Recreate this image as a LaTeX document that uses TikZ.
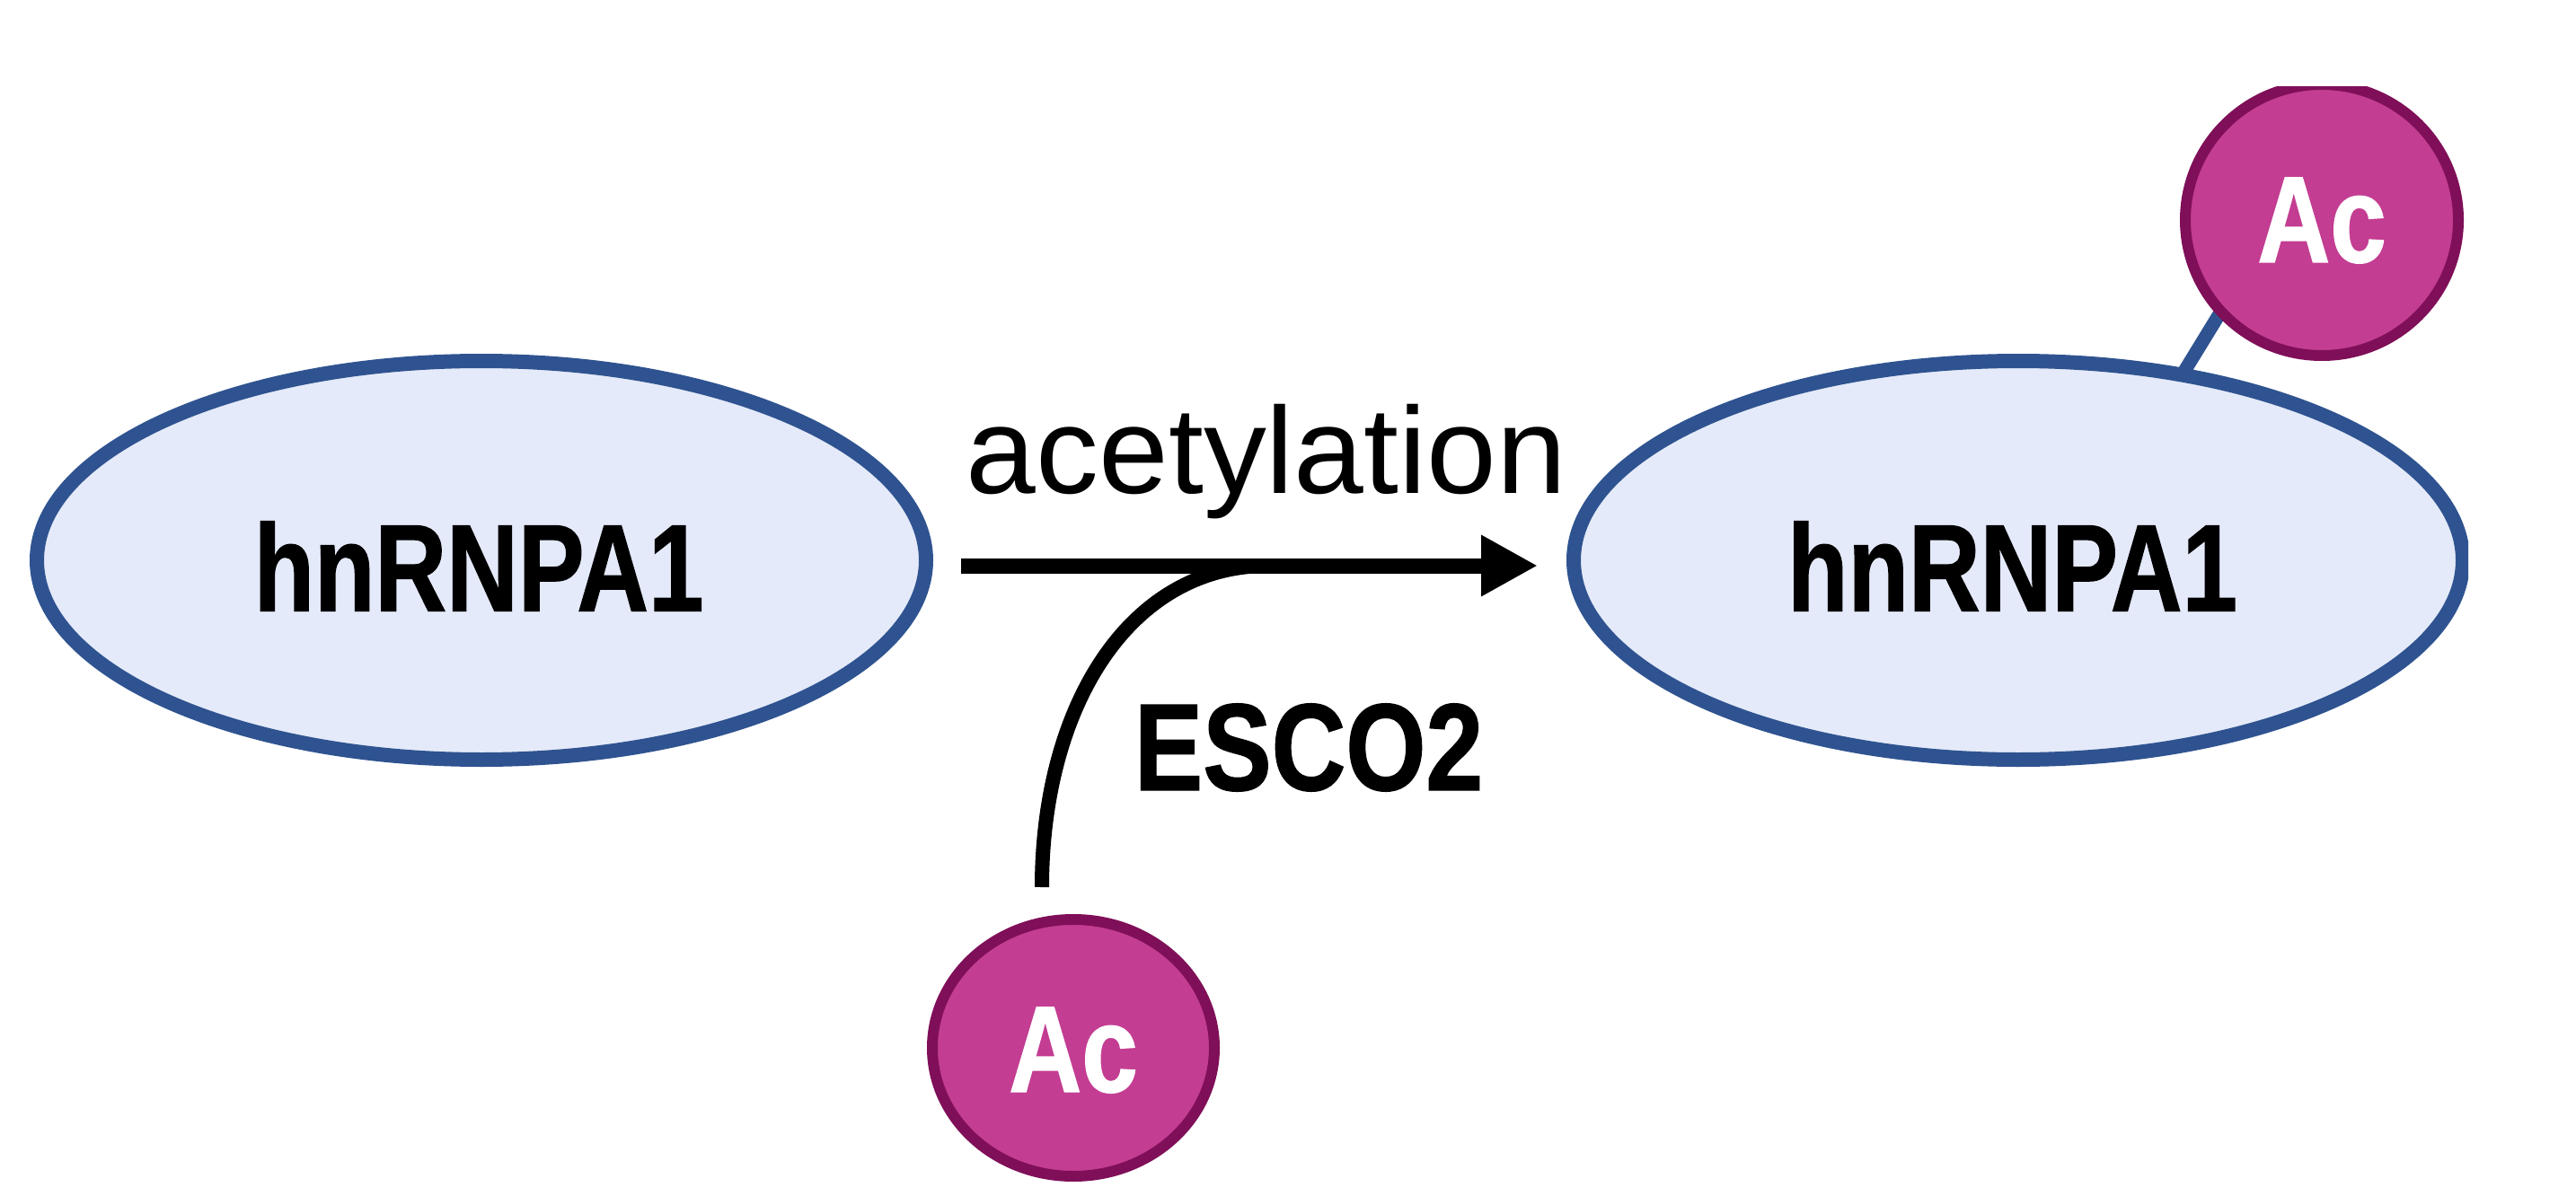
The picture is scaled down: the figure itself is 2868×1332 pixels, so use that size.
\documentclass[tikz,border=0pt]{standalone}
\usepackage{fontspec}
\setmainfont{Liberation Sans}
\newfontfamily\protbold[FakeStretch=0.80,FakeBold=1]{Liberation Sans Bold}
\newfontfamily\escobold[FakeStretch=0.83,FakeBold=1]{Liberation Sans Bold}
\newfontfamily\acbold[FakeStretch=0.82,FakeBold=1]{Liberation Sans Bold}
\newfontfamily\acetfont[FakeStretch=1.02]{Liberation Sans}
\usetikzlibrary{shapes.geometric,arrows.meta,backgrounds}
\definecolor{protfill}{HTML}{E4EAF9}
\definecolor{protline}{HTML}{2F5390}
\definecolor{acfill}{HTML}{C33D92}
\definecolor{acline}{HTML}{7F0F58}
\tikzset{
  protein/.style={ellipse,draw=protline,fill=protfill,line width=16pt,inner sep=0pt,outer sep=0pt,
    minimum width=990pt,minimum height=444pt,text height=113pt,text depth=0pt,
    font=\protbold\fontsize{138}{138}\selectfont},
  acetyl/.style={ellipse,draw=acline,fill=acfill,line width=12pt,inner sep=0pt,outer sep=0pt,
    text=white,text depth=0pt,font=\acbold\fontsize{137}{137}\selectfont},
  flow/.style={black,line width=17pt,line cap=butt},
  stem/.style={protline,line width=15pt},
}
\begin{document}
\begin{tikzpicture}[x=1pt,y=-1pt]
\useasboundingbox (0,0) rectangle (2868,1332);
\clip (0,97) rectangle (2748,1332);
\node[protein] (left) at (536,624) {hnRNPA1\rule{6pt}{0pt}};
\node[protein] (right) at (2247,624) {hnRNPA1\rule{13pt}{0pt}};
\node[acetyl,minimum width=304pt,minimum height=302pt,text height=94pt] (topac) at (2585,245) {Ac};
\node[acetyl,minimum width=314pt,minimum height=286pt,text height=98pt] (botac) at (1195,1167) {Ac};
\node[anchor=base,inner sep=0pt,font=\acetfont\fontsize{137}{137}\selectfont] (acet) at (1410,549) {acetylation};
\node[anchor=base,inner sep=0pt,font=\escobold\fontsize{138}{138}\selectfont] (esco) at (1457,880) {ESCO2};
\coordinate (stemfoot) at (2431,415);
\coordinate (stemtop) at (2480,335);
\coordinate (curvefoot) at (1160,988);
\coordinate (curvejoin) at (1412,630);
\begin{pgfonlayer}{background}
\draw[stem] (stemfoot) -- (stemtop);
\end{pgfonlayer}
\draw[flow,-{Triangle[length=63pt,width=64pt]}] ([shift={(39,6)}]left.east) -- ([shift={(-40,6)}]right.west);
\draw[black,line width=16pt] (curvefoot) .. controls (1160,790) and (1255,630) .. (curvejoin);
\end{tikzpicture}
\end{document}
